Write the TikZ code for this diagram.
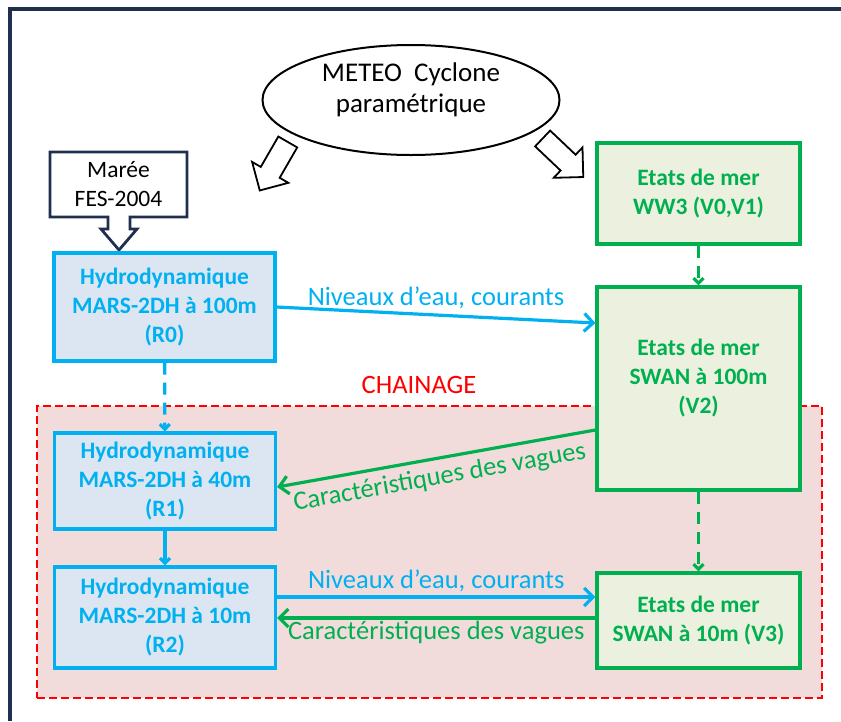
\documentclass[tikz,border=0pt]{standalone}
\usepackage{fontspec}
\setmainfont{Carlito}
\usepackage{tikz}
\usetikzlibrary{shapes.geometric,shapes.arrows,arrows.meta,positioning}

\definecolor{framenavy}{HTML}{1F2F4D}
\definecolor{hydrocyan}{HTML}{00B0F0}
\definecolor{hydrofill}{HTML}{DCE6F2}
\definecolor{wavegreen}{HTML}{00B050}
\definecolor{wavefill}{HTML}{EBF1DE}
\definecolor{chainred}{HTML}{FF0000}
\definecolor{chainfill}{HTML}{F2DCDB}

\newcommand\diagfont{\fontsize{23.5}{29}\selectfont}
\newcommand\labfont{\fontsize{26.5}{32}\selectfont}

\tikzset{
  hydro/.style={draw=hydrocyan, fill=hydrofill, line width=3.2pt, text=hydrocyan,
    font=\diagfont\bfseries, align=center, minimum width=221pt, inner sep=0pt},
  vague/.style={draw=wavegreen, fill=wavefill, line width=3.2pt, text=wavegreen,
    font=\diagfont\bfseries, align=center, minimum width=203pt, inner sep=0pt},
  meteo/.style={ellipse, draw=black, line width=2pt, minimum width=297pt,
    minimum height=110pt, inner sep=0pt, align=center, font=\fontsize{27}{31}\selectfont},
  bigarrow/.style={single arrow, draw=black, fill=white, line width=1.8pt,
    minimum height=56pt, minimum width=40pt, single arrow head extend=10pt,
    inner xsep=0pt, inner ysep=10pt},
  chainbox/.style={draw=chainred, fill=chainfill, line width=2.6pt,
    dash pattern=on 8pt off 4pt, minimum width=785pt, minimum height=292pt, inner sep=0pt},
  flux/.style={draw=hydrocyan, line width=3.2pt},
  vagflux/.style={draw=wavegreen, line width=3.2pt},
  tiret/.style={dash pattern=on 12pt off 8pt},
  petite/.style={-{Straight Barb[length=5pt,width=10pt]}},
  lab/.style={font=\labfont},
}

\begin{document}
\begin{tikzpicture}[x=1pt, y=-1pt, >={Straight Barb[length=9pt,width=18pt]}]
  \useasboundingbox (0,0) rectangle (841,721);
  % cadre
  \draw[framenavy, line width=3.2pt] (10,721) -- (10,9) -- (841,9);

  % zone de chainage
  \node[chainbox] (chain) at (429.5,552) {};
  \node[lab, text=chainred] (chainlab) at (419,385) {CHAINAGE};

  % forcages
  \node[meteo] (meteo) at (411,100) {METEO\ \ Cyclone\\paramétrique\\[-6pt]\mbox{}};
  \node[bigarrow, rotate=240] (versR) at (276.5,161.5) {};
  \node[bigarrow, rotate=-43.5] (versV) at (559,154) {};
  \draw[framenavy, fill=white, line width=2.8pt] (50,152) -- (187,152) -- (187,217)
    -- (130,217) -- (130,229) -- (137,229) -- (119,250) -- (101,229) -- (108,229)
    -- (108,217) -- (50,217) -- cycle;
  \node[font=\diagfont, align=center] (maree) at (118.5,184.5) {Marée\\FES-2004};

  % modeles hydro
  \node[hydro, minimum height=108pt] (r0) at (164.5,307) {Hydrodynamique\\MARS-2DH à 100m\\(R0)};
  \node[hydro, minimum height=96pt] (r1) at (165,481) {Hydrodynamique\\MARS-2DH à 40m\\(R1)};
  \node[hydro, minimum height=101pt] (r2) at (165,617.5) {Hydrodynamique\\MARS-2DH à 10m\\(R2)};

  % modeles de vagues
  \node[vague, minimum height=101pt] (ww3) at (698.5,193.5) {Etats de mer\\WW3 (V0,V1)};
  \node[vague, minimum height=203pt] (v2) at (698.5,388.5) {Etats de mer\\SWAN à 100m\\(V2)\\[-5pt]\mbox{}};
  \node[vague, minimum height=95pt] (v3) at (698.5,620.5) {Etats de mer\\SWAN à 10m (V3)};

  % echanges
  \draw[flux, ->] (r0.east) -- ([yshift=65.5pt]v2.west)
    node[lab, midway, above=1pt, text=hydrocyan] (niv1) {Niveaux d’eau, courants};
  \draw[vagflux, <-] ([yshift=-6pt]r1.east) -- ([yshift=-41.5pt]v2.west)
    node[lab, midway, below=3pt, sloped, text=wavegreen] (car1) {Caractéristiques des vagues};
  \draw[flux, ->] ([yshift=20.5pt]r2.east) -- ([yshift=23.5pt]v3.west)
    node[lab, midway, above=0pt, text=hydrocyan] (niv2) {Niveaux d’eau, courants};
  \draw[vagflux, <-] ([yshift=-0.5pt]r2.east) -- ([yshift=2.5pt]v3.west)
    node[lab, midway, below=-2pt, text=wavegreen] (car2) {Caractéristiques des vagues};

  \path[flux, petite]
    (r0) edge[tiret] (r1)
    (r1) edge (r2);
  \path[vagflux, petite]
    (ww3) edge[tiret] (v2)
    (v2) edge[tiret] (v3);
\end{tikzpicture}
\end{document}
